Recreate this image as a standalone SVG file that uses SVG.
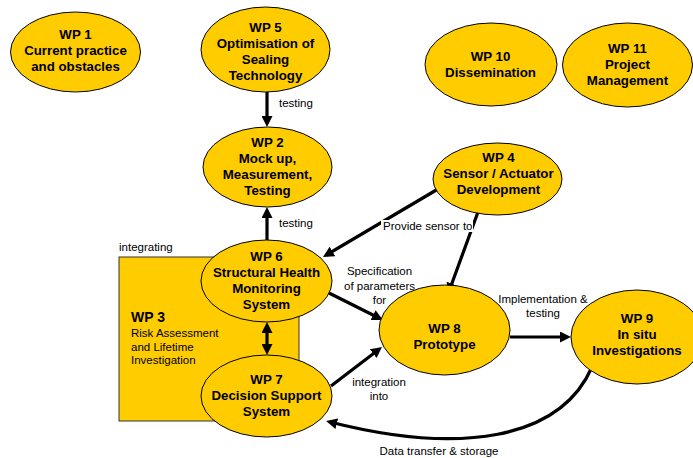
<svg xmlns="http://www.w3.org/2000/svg" width="693" height="458" viewBox="0 0 693 458">
<style>
.n{fill:#FFCC00;stroke:#000;stroke-width:1}
.t{font-family:"Liberation Sans",Arial,sans-serif;font-size:13.3px;font-weight:bold;text-anchor:middle;fill:#000}
.l{font-family:"Liberation Sans",Arial,sans-serif;font-size:11.5px;fill:#000}
.c{fill:none;stroke:#000;stroke-width:3.2;marker-end:url(#ah)}
</style>
<defs>
<marker id="ah" viewBox="0 0 11 11" refX="7" refY="5.5" markerWidth="11" markerHeight="11" markerUnits="userSpaceOnUse" orient="auto-start-reverse">
<path d="M0,0 L11,5.5 L0,11 z" fill="#000"/>
</marker>
</defs>
<rect width="693" height="458" fill="#fff"/>
<g id="wp3">
<rect x="119" y="257" width="180" height="164" fill="#FFCC00" stroke="#333" stroke-width="1"/>
<text class="l" x="119" y="251">integrating</text>
<text class="t" x="131" y="322" style="text-anchor:start;font-size:14px">WP 3</text>
<text class="l" x="131" y="337">Risk Assessment</text>
<text class="l" x="131" y="351">and Lifetime</text>
<text class="l" x="131" y="364">Investigation</text>
</g>
<g id="connectors">
<path class="c" d="M267,92 L267,123"/>
<path class="c" d="M267,240 L267,211"/>
<path class="c" d="M267,326 L267,351" style="marker-start:url(#ah)"/>
<path class="c" d="M438,189 L326.4,255"/>
<path class="c" d="M478,212 L449.4,290.2"/>
<path class="c" d="M329,293 L379.4,318.2"/>
<path class="c" d="M331,386 L378.8,349.4"/>
<path class="c" d="M510,337 L567,337"/>
<path class="c" d="M592,367 C560,440 460,455 330,422"/>
<rect x="381" y="220" width="92" height="12" fill="#fff"/>
<text class="l" x="383" y="230">Provide sensor to</text>
<text class="l" x="279" y="107">testing</text>
<text class="l" x="279" y="227">testing</text>
<text class="l" x="379.5" y="275" text-anchor="middle">Specification</text>
<text class="l" x="379.5" y="290" text-anchor="middle">of parameters</text>
<text class="l" x="379.5" y="304" text-anchor="middle">for</text>
<text class="l" x="543" y="303" text-anchor="middle">Implementation &amp;</text>
<text class="l" x="543" y="317" text-anchor="middle">testing</text>
<text class="l" x="379" y="386" text-anchor="middle">integration</text>
<text class="l" x="379" y="400" text-anchor="middle">into</text>
<text class="l" x="439" y="455" text-anchor="middle">Data transfer &amp; storage</text>
</g>
<g id="wp1">
<ellipse class="n" cx="75.5" cy="52" rx="65" ry="40"/>
<text class="t" x="75.5" y="39">WP 1</text>
<text class="t" x="75.5" y="55">Current practice</text>
<text class="t" x="75.5" y="71">and obstacles</text>
</g>
<g id="wp5">
<ellipse class="n" cx="265.5" cy="49.5" rx="64.5" ry="42.5"/>
<text class="t" x="265.5" y="32">WP 5</text>
<text class="t" x="265.5" y="48">Optimisation of</text>
<text class="t" x="265.5" y="64">Sealing</text>
<text class="t" x="265.5" y="80">Technology</text>
</g>
<g id="wp2">
<ellipse class="n" cx="267.5" cy="167" rx="64.5" ry="40"/>
<text class="t" x="267.5" y="147">WP 2</text>
<text class="t" x="267.5" y="163">Mock up,</text>
<text class="t" x="267.5" y="179">Measurement,</text>
<text class="t" x="267.5" y="195">Testing</text>
</g>
<g id="wp6">
<ellipse class="n" cx="266.5" cy="281" rx="65.5" ry="41"/>
<text class="t" x="266.5" y="261">WP 6</text>
<text class="t" x="266.5" y="277">Structural Health</text>
<text class="t" x="266.5" y="293">Monitoring</text>
<text class="t" x="266.5" y="309">System</text>
</g>
<g id="wp7">
<ellipse class="n" cx="266.5" cy="396" rx="65.5" ry="41"/>
<text class="t" x="266.5" y="384">WP 7</text>
<text class="t" x="266.5" y="400">Decision Support</text>
<text class="t" x="266.5" y="416">System</text>
</g>
<g id="wp4">
<ellipse class="n" cx="497.5" cy="179" rx="64.5" ry="36"/>
<text class="t" x="498.5" y="162">WP 4</text>
<text class="t" x="498.5" y="178">Sensor / Actuator</text>
<text class="t" x="498.5" y="194">Development</text>
</g>
<g id="wp8">
<ellipse class="n" cx="444.5" cy="330" rx="65.5" ry="45"/>
<text class="t" x="444.5" y="333">WP 8</text>
<text class="t" x="444.5" y="349">Prototype</text>
</g>
<g id="wp9">
<ellipse class="n" cx="637" cy="337" rx="66" ry="47"/>
<text class="t" x="637" y="323">WP 9</text>
<text class="t" x="637" y="339">In situ</text>
<text class="t" x="637" y="355">Investigations</text>
</g>
<g id="wp10">
<ellipse class="n" cx="491" cy="64.5" rx="66" ry="41.5"/>
<text class="t" x="490.5" y="61">WP 10</text>
<text class="t" x="490.5" y="77">Dissemination</text>
</g>
<g id="wp11">
<ellipse class="n" cx="627.5" cy="65" rx="65" ry="42"/>
<text class="t" x="627.5" y="53">WP 11</text>
<text class="t" x="627.5" y="69">Project</text>
<text class="t" x="627.5" y="85">Management</text>
</g>
</svg>
